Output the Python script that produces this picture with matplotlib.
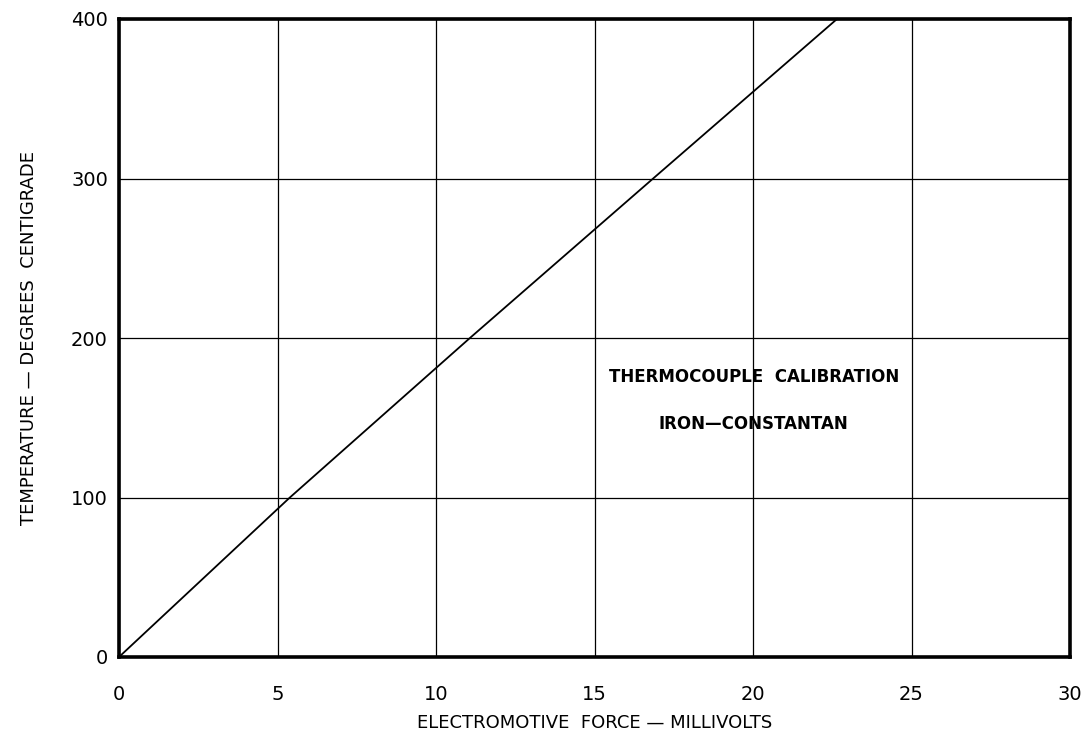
import matplotlib
matplotlib.use("Agg")
import matplotlib.pyplot as plt

# Data
emf_mv = [0.0, 5.39, 11.07, 16.85, 22.65]
temp_c = [0, 100, 200, 300, 400]
x_ticks = [0, 5, 10, 15, 20, 25, 30]
x_tick_labels = ["0", "5", "10", "15", "20", "25", "30"]
y_ticks = [0, 100, 200, 300, 400]
y_tick_labels = ["0", "100", "200", "300", "400"]

plt.rcParams['font.family'] = ['DejaVu Sans']

fig = plt.figure(figsize=(10.87, 7.40), dpi=100)
ax = fig.add_axes([119/1087, 1-657/740, (1070-119)/1087, (657-19)/740])

ax.plot(emf_mv, temp_c, color="black", lw=1.3, clip_on=False, zorder=3)

ax.set_xlim(0, 30)
ax.set_ylim(0, 400)
ax.set_xticks(x_ticks)
ax.set_xticklabels(x_tick_labels, fontsize=14)
ax.set_yticks(y_ticks)
ax.set_yticklabels(y_tick_labels, fontsize=14)
ax.tick_params(length=0, pad=20, axis="x")
ax.tick_params(length=0, pad=8, axis="y")
ax.grid(True, color="black", lw=0.9)
ax.set_axisbelow(True)
for s in ax.spines.values():
    s.set_linewidth(2.6)
    s.set_color("black")

ax.set_xlabel("ELECTROMOTIVE  FORCE — MILLIVOLTS", fontsize=13, labelpad=7)
ax.set_ylabel("TEMPERATURE — DEGREES  CENTIGRADE", fontsize=13, labelpad=24)

ax.text(20.05, 175.5, "THERMOCOUPLE  CALIBRATION", ha="center", va="center",
        fontsize=12, fontweight="bold")
ax.text(20.0, 146, "IRON—CONSTANTAN", ha="center", va="center",
        fontsize=12, fontweight="bold")

fig.savefig("out.png", dpi=100)
